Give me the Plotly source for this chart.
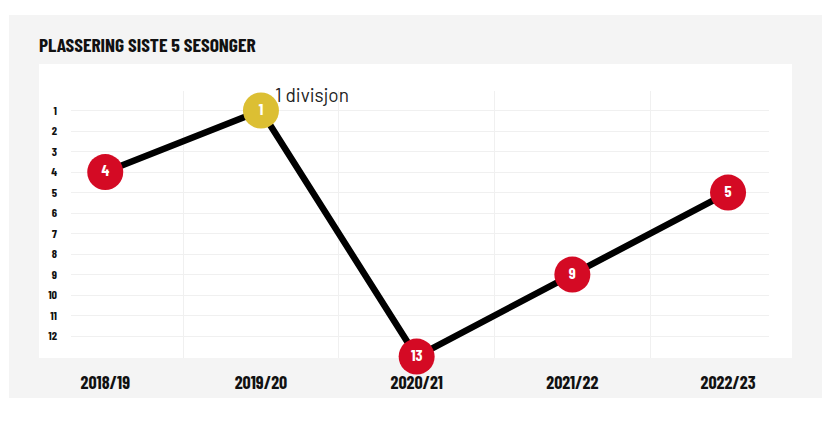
import plotly.graph_objects as go

seasons = ["2018/19", "2019/20", "2020/21", "2021/22", "2022/23"]
placements = [4, 1, 13, 9, 5]
divisions = ["", "1 divisjon", "", "", ""]
y_ticks = list(range(1, 13))
title_text = "PLASSERING SISTE 5 SESONGER"

RED = "#d40a24"
YELLOW = "#dcbf33"
COND = "Barlow Condensed, Oswald, Roboto Condensed, sans-serif"

x_idx = list(range(len(seasons)))
colors = [YELLOW if p == 1 else RED for p in placements]

fig = go.Figure()
fig.add_trace(go.Scatter(
    x=x_idx, y=placements,
    mode="lines+markers+text",
    line=dict(color="#000000", width=6.5),
    marker=dict(size=36, color=colors, line=dict(width=0)),
    text=[str(p) for p in placements],
    textposition="middle center",
    textfont=dict(family=COND, size=16, color="white", weight="bold"),
    cliponaxis=False,
    hoverinfo="skip",
))

for i, d in enumerate(divisions):
    if d:
        fig.add_annotation(x=x_idx[i], y=placements[i], text=d, showarrow=False,
                           xanchor="left", yanchor="middle", xshift=12, yshift=16,
                           font=dict(family="Barlow, Roboto, sans-serif", size=19, color="#222222"))

# background panels (paper fractions of the 698x267 plot area)
fig.add_shape(type="rect", xref="paper", yref="paper", layer="below",
              x0=(9 - 71) / 698, x1=(822 - 71) / 698, y0=(358 - 398) / 267, y1=(358 - 15) / 267,
              fillcolor="#f4f4f4", line=dict(width=0))
fig.add_shape(type="rect", xref="paper", yref="paper", layer="below",
              x0=(39 - 71) / 698, x1=(792 - 71) / 698, y0=0, y1=(358 - 64) / 267,
              fillcolor="#ffffff", line=dict(width=0))

fig.add_annotation(xref="paper", yref="paper", x=(37 - 71) / 698, y=(358 - 44) / 267,
                   xanchor="left", yanchor="middle", showarrow=False, text=title_text,
                   font=dict(family=COND, size=19.5, color="#111111", weight="bold"))

fig.update_layout(
    width=832, height=413,
    margin=dict(l=63, r=71, t=83, b=63),
    paper_bgcolor="#ffffff", plot_bgcolor="rgba(0,0,0,0)",
    showlegend=False,
    xaxis=dict(range=[-0.22, 4.263], tickvals=x_idx, ticktext=seasons,
               showgrid=False, zeroline=False, showline=False,
               ticks="", ticklabelstandoff=12,
               tickfont=dict(family=COND, size=18, color="#111111", weight="bold"),
               minor=dict(tickvals=[0.5, 1.5, 2.5, 3.5], showgrid=True,
                          gridcolor="#f0f0f0", gridwidth=1, ticks=""),
               fixedrange=True),
    yaxis=dict(range=[13.07, 0.049], tickvals=y_ticks, ticktext=[str(t) for t in y_ticks],
               showgrid=True, gridcolor="#f0f0f0", gridwidth=1,
               zeroline=False, showline=False, ticks="", ticklabelstandoff=13,
               tickfont=dict(family=COND, size=12, color="#111111", weight="bold"),
               fixedrange=True),
)

fig.write_html("out.html")
